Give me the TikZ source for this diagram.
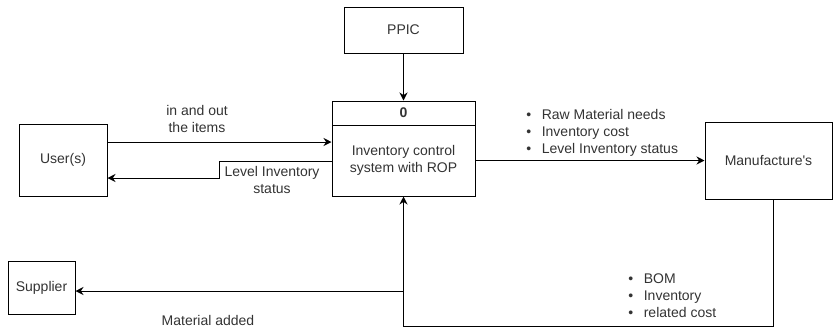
\documentclass[tikz,border=0pt]{standalone}
\usepackage{fontspec}
\setmainfont{Liberation Sans}
\usetikzlibrary{arrows.meta}

\tikzset{
    box/.style = {draw, line width=0.75pt, align=center, inner sep=0pt,
                  text=black!80, font=\fontsize{10.5}{12.75}\selectfont},
    flow/.style = {draw, line width=0.75pt, -{Stealth[length=6pt,width=6pt]}},
    lbl/.style = {align=center, inner sep=0pt, text=black!80,
                  font=\fontsize{10.5}{12.75}\selectfont},
    lst/.style = {lbl, align=left, anchor=west},
}

\begin{document}
\begin{tikzpicture}[x=0.75pt, y=-0.75pt]
    \useasboundingbox (0,0) rectangle (833,330);

    \node[box, minimum width=119*0.75pt, minimum height=46*0.75pt] (ppic) at (403.5,30) {PPIC};
    \node[box, minimum width=143*0.75pt, minimum height=24*0.75pt, font=\fontsize{10.5}{12.75}\selectfont\bfseries] (pid) at (403.5,113) {0};
    \node[box, minimum width=143*0.75pt, minimum height=71*0.75pt] (proc) at (403.5,160.5) {Inventory control\\system with ROP};
    \node[box, minimum width=88*0.75pt, minimum height=72*0.75pt] (user) at (63,160) {User(s)};
    \node[box, minimum width=67*0.75pt, minimum height=53*0.75pt] (supplier) at (41.5,287.5) {Supplier};
    \node[box, minimum width=127*0.75pt, minimum height=77*0.75pt] (manu) at (768.5,160.5) {Manufacture\textquotesingle s};

    \coordinate (a1) at (200,142);
    \coordinate (b1) at (219,161);
    \coordinate (b2) at (219,178);
    \coordinate (c1) at (773,326);
    \coordinate (c2) at (403.5,326);
    \coordinate (c3) at (403.5,291);

    \draw[flow] (ppic) -- (pid);
    \draw[flow] (user.east |- a1) -- (proc.west |- a1);
    \draw[flow] (proc.west |- b1) -- (b1) -- (b2) -- (user.east |- b2);
    \draw[flow] (proc) -- (manu);
    \draw[flow] (c1 |- manu.south) -- (c1) -- (c2) -- (proc.south);
    \draw[flow] (c3) -- (supplier.east |- c3);

    \node[lbl] (inout) at (197,119) {in and out\\the items};
    \node[lbl] (level) at (272,180) {Level Inventory\\status};
    \node[lbl] (added) at (208,320) {Material added};
    \node[lst] (needs) at (526,133) {\textbullet\hspace{8pt}Raw Material needs\\\textbullet\hspace{8pt}Inventory cost\\\textbullet\hspace{8pt}Level Inventory status};
    \node[lst] (bom) at (628,296) {\textbullet\hspace{8pt}BOM\\\textbullet\hspace{8pt}Inventory\\\textbullet\hspace{8pt}related cost};
\end{tikzpicture}
\end{document}
